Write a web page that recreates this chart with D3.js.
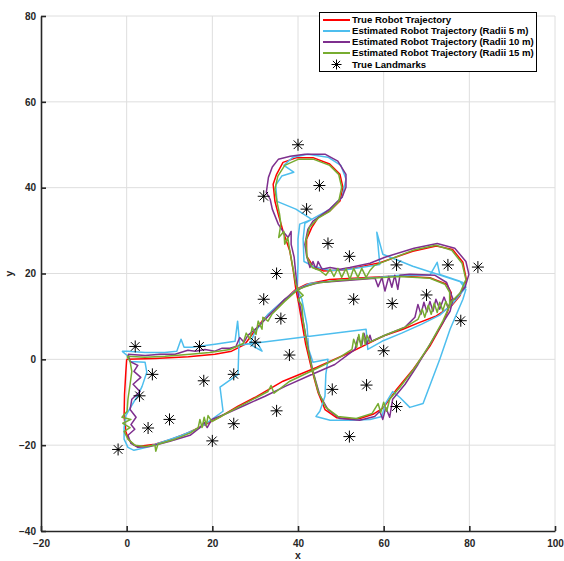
<!DOCTYPE html>
<html>
<head>
<meta charset="utf-8">
<script src="https://cdn.jsdelivr.net/npm/d3@7/dist/d3.min.js"></script>
<style>
  html, body { margin: 0; padding: 0; background: #fff; }
  svg { display: block; font-family: "Liberation Sans", Arial, sans-serif; }
</style>
</head>
<body>
<svg id="chart" width="564" height="561"></svg>
<script>
// ---------------- DATA ----------------
const xTicks = [-20, 0, 20, 40, 60, 80, 100];
const yTicks = [-40, -20, 0, 20, 40, 60, 80];
const xLabel = "x";
const yLabel = "y";

const seriesNames = [
  "True Robot Trajectory",
  "Estimated Robot Trajectory (Radii 5 m)",
  "Estimated Robot Trajectory (Radii 10 m)",
  "Estimated Robot Trajectory (Radii 15 m)"
];
const landmarkName = "True Landmarks";

const trueTrajectory = [
  [0,0],[-0.2,-3],[-0.5,-8.2],[-0.6,-13.3],[-0.2,-16.8],[0.4,-18.6],[1.5,-19.8],[2.6,-20.3],
  [6.6,-19.8],[10.5,-18.6],[14.4,-17.1],[18.3,-15.2],[22.2,-13.2],[26,-10.9],[29.9,-8.9],
  [36.5,-5.1],[44.3,-1.9],[52.1,1.6],[56,3.5],[59.9,5.4],[64.5,7],[68.4,8.6],[72.3,10.1],[75.8,12.4],
  [77.8,14.8],[79.3,18.6],[78.5,22.6],[76.1,25.6],[72.3,26.4],[66.8,25.2],[59.1,22.5],[51.3,20.9],
  [45.9,20.6],[43.5,21.7],[42,24.1],[42,28],[43.2,30.7],[44.7,33],[47.4,34.6],[49.8,36.9],[50.5,40],
  [49.8,43.1],[47.4,45.5],[43.5,47],[39.7,47],[36.5,45.9],[35,43.1],[34.2,40.8],[34.6,36.9],[35.4,33.8],
  [36.5,29.9],[38.1,25.2],[38.9,20.6],[39.5,16.3],[40.2,12.8],[40.9,8.6],[41.8,3.5],[43.2,-2.3],
  [44.7,-7.8],[46.3,-11.7],[49,-13.6],[53.7,-14],[57.5,-12.8],[59.9,-11.3],[63,-7],[66.9,-2.3],
  [70.8,3.1],[73.9,8.6],[75.4,12.4],[75.8,15.5],[74.7,17.5],[70.8,19],[63,19.4],[55.2,19],[47.4,18.6],
  [42,17.5],[39.5,16.3],[31.9,9.3],[27.6,3.5],[24.5,1.9],[20.6,1.2],[14.4,0.6],[6.6,0.2],[0,0]
];

const estRadii5 = [
  [-1.1,1.9],[0.1,0.9],[0.8,-0.5],[4.3,-0.7],[4.7,-3],[3.6,-6.3],[2.6,-8.4],[1.2,-10.7],[-0.2,-13.1],
  [-0.6,-15.9],[-0.6,-18.6],[0.3,-20.5],[1.7,-21.2],[4.7,-20.5],[8.2,-19.3],[12.9,-17.7],[17.1,-15.9],
  [19.9,-14],[22.5,-12.1],[21.8,-6.5],[26,-3.5],[26.2,3.3],[55.9,7],[56.3,2.3],[59.6,4.2],[64.2,6.1],
  [68.9,8.2],[73.1,10.3],[75.9,12.8],[79.2,16.8],[78.5,17.9],[66.8,21.7],[59.8,24.5],[58.4,29.6],
  [59.1,22.1],[52.1,21],[47.5,20.7],[43.5,21.7],[41.4,22.8],[41.2,28],[41.6,31.7],[43.7,32.9],[47.5,35],
  [50.3,37.8],[51.2,42],[50,45.2],[47,47.1],[42.3,47.8],[38.8,47.1],[36.7,45.2],[39,43.6],[36.2,42.7],
  [34.8,40.6],[35.1,36.8],[39.5,35],[43.2,32.6],[40.4,31.5],[40,28],[40,22.1],[39.8,16.3],
  [40.9,14],[42.1,7.9],[42.5,2.3],[43.5,-0.7],[47,0],[46.5,-3.5],[46.3,-8.6],[45.1,-12.1],[44.2,-13.3],
  [47.5,-14.2],[52.1,-14.2],[56.8,-14],[59.6,-13.3],[60.3,-10.5],[62.1,-7.5],[63.8,-8.9],[66.1,-11.2],
  [69.2,-10.3],[73.1,0],[75.5,7],[78.5,14],[79.2,16.3],[77.8,18.2],[73.1,19.8],[72.5,22.6],[70.8,19.6],
  [63.8,19.6],[59.1,19.1],[52.1,18.6],[47.5,18.2],[42.8,17.7],[39.8,16.3],
  [36.9,14],[33,10.5],[29.9,6.3],[28.8,3.5],[31.6,1.9],[30.4,4],[26.4,3.3],[25.9,8.9],[25.3,4.2],
  [20.6,3.5],[15.2,2.8],[13.4,2.8],[12.7,4.7],[11.7,1.9],[8.9,1.6],[4.3,1.6],[0.3,1.9],[-1.1,1.9]
];

const estRadii10 = [
  [0.3,1.2],[0.8,-0.5],[2.6,-1.4],[1.7,-2.8],[3.3,-4.2],[1.5,-5.8],[3.1,-7.5],[1.2,-9.3],[0.8,-11.7],
  [2.2,-13.5],[1,-15.2],[1.9,-16.3],[0.3,-17.7],[1,-19.6],[2.6,-20.5],
  [5.4,-20.3],[10.1,-19.1],[14.8,-17.7],[17.1,-15.9],[18.1,-14.7],[18.8,-15.9],[19.9,-14],[22.9,-12.8],
  [27.6,-10.7],[32.3,-8.6],[37,-6.3],[42.8,-3.7],[48.6,-1.2],[53.3,2.3],[54,5.1],[54.9,3.3],[55.4,6.1],
  [56.1,3.5],[56.8,5.6],[57.2,4.2],[60.3,5.6],[65,7.5],[67.3,9.8],[68,12.8],[68.7,10.5],[69.4,13.3],
  [70.1,11],[70.8,13.5],[71.5,11.2],[72.2,14],[73.1,11.7],[74.1,14.5],[75,12.1],[75.9,14],[76.6,14],
  [79,16.8],[79.9,19.8],[79.2,22.8],[76.6,25.9],[72.5,27],[67.1,25.9],[60.3,23.8],[56.8,22.4],[52.1,21.4],
  [49.8,21],[47.5,21.4],[45.6,21],[44.7,22.8],[44.2,21],[43.5,22.8],[42.8,21.4],[42.1,23.8],
  [41.6,26.8],[42.3,30.3],[43.5,32.2],[47.4,35],[50.3,37.8],[51.2,40.1],[51.2,43.1],[49.3,46.2],
  [46.3,47.8],[41.6,47.8],[38.2,47.3],[35.4,46.6],[34,44.8],[33.1,42.4],[32.6,38.9],[33.5,37.3],[34,35],
  [35.4,31.5],[36.5,29.8],[37.7,28.4],[38.4,29.8],[38.4,26.8],[39.1,23.8],[39.5,19.8],[39.8,16.8],
  [40.4,12.8],[41.2,8.9],[42.3,2.8],[43.5,-2.8],[45.1,-8.4],[47,-11.7],[49.8,-13.8],[54.4,-14.2],
  [57.9,-13.3],[59.1,-12.1],[59.8,-14],[60.5,-11.2],[61.4,-13.5],[62.1,-9.3],[65,-5.8],[68,-1.2],
  [70.8,3.5],[73.6,8.2],[75.5,11.2],[76.2,14],[74.7,17.9],[71.9,19.6],[66.1,19.8],[63.8,19.6],[63.3,16.3],
  [62.6,19.6],[61.9,16.8],[61.2,19.3],[60.3,15.9],[59.6,19.1],[58.7,16.9],[58,18.9],[52.1,18.4],
  [45.1,17.9],[41.6,17],[39.8,16.1],[36.9,14],[33.5,10.5],[30.6,7.5],[28.3,5.6],[27.4,4],[26.4,5.1],
  [25.5,3],[24.1,2.6],[22.3,2.6],[20.6,1.9],[18.3,2.3],[16,1.9],[14.3,2.1],[11.3,1.2],[7.8,1.2],
  [4.3,0.9],[0.3,1.2]
];

const estRadii15 = [
  [0.1,0.7],[0.8,-0.5],[1.2,-2.8],[0.8,-5.8],[0.3,-9.3],[0.1,-12.1],[-1.1,-13.5],[1,-14],[-0.9,-14.9],
  [0.8,-15.9],[-0.6,-16.8],[0.3,-18.6],[1.9,-20],[4.3,-20.3],[6.6,-20],[6.8,-21.4],[7.3,-19.8],
  [11.3,-18.6],[14.8,-17.2],[16.7,-15.9],[17.1,-14],[17.6,-15.9],[18.1,-13.5],[18.6,-15.4],[19,-13.1],
  [19.9,-14.5],[22.9,-12.8],[27.6,-10.3],[33,-7.5],[33.7,-6.1],[34.4,-7.9],[38.1,-5.1],[44,-2.3],
  [49.8,0.5],[52.6,2.3],[53,4.7],[53.7,2.8],[54.2,5.8],[54.7,3],[55.2,6.1],[55.7,3.5],[56.1,5.6],
  [56.8,4],[60.3,5.6],[65,7.5],[68,9.3],[69,11.7],[69.6,9.8],[70.4,12.6],[71.1,10.5],[71.8,13.1],
  [72.5,10.9],[73.1,13.3],[73.8,11.4],[74.5,13.5],[75.2,11.9],[75.9,13.5],[77.8,15.4],[79.2,18.6],
  [78.3,22.4],[75.9,25.4],[72.2,26.6],[66.8,25.4],[61.4,23.3],[57.9,21.9],[56.8,20.7],[55.9,19.1],
  [54.9,21.2],[54,19.1],[53,21.2],[52.1,18.6],[51.2,21.2],[50.2,19.1],[49.3,21.2],[48.4,19.3],
  [47.5,21],[46.5,19.6],[45.1,20.7],[43.3,21.4],[42.1,23.8],[41.8,27.5],[42.7,30.8],[44.7,32.9],
  [47.4,34.5],[49.5,36.8],[50.2,40.1],[49.5,43.1],[47.4,45.2],[43.7,46.6],[40,46.6],[36.9,45.2],
  [35.3,42.7],[34.6,39.6],[35.1,36.6],[35.7,33.8],[36,31.5],[35.5,28.4],[36.7,29.8],[36.9,26.8],
  [37.6,28.4],[38.1,25.2],[38.8,21.4],[39.5,17.5],[40.2,15.9],[41.2,14.9],[40,14],[40.9,12.6],
  [41.2,8.9],[42.1,3.5],[43.3,-2.3],[44.7,-7.5],[46.5,-11.2],[49.3,-13.3],[53.6,-13.8],[57.3,-12.6],
  [58.7,-10.3],[59.3,-12.4],[60,-10],[60.7,-12.1],[61.4,-9.3],[63.8,-6.5],[67.3,-1.9],[70.8,3.5],
  [73.8,8.9],[75.4,12.4],[75.4,15.6],[74.3,17.5],[70.8,18.9],[63.8,19.3],[56.8,18.9],[49.8,18.4],
  [44,17.7],[40,16.3],[36.9,13.5],[33.9,10.5],[33,8.9],[31.8,9.8],[31.6,7],[30.7,8.9],[30.2,5.8],
  [29.3,7.5],[28.8,4.7],[27.9,6.1],[27.2,3.7],[24.1,2.3],[19.4,1.6],[14.8,1.2],[9,0.7],[4.3,0.5],[0.1,0.7]
];

const landmarks = [
  [40,50],[45,40.5],[42,35],[32,38],[47,27],[52,24],[35,20],[32,14],[36,9.5],[30,4],[38,1],
  [53,14],[63,22],[62,13],[70,15],[75,22],[82,21.5],[78,9],[60,2],[56,-6],[48,-7],[63,-11],
  [52,-18],[35,-12],[25,-15],[20,-19],[25,-3.5],[18,-5],[17,3],[2,3],[6,-3.5],[3,-8.5],[5,-16],
  [10,-14],[-2,-21]
];

const seriesColors = ["#ff0000", "#4dbeee", "#7e2f8e", "#77ac30"];

// ---------------- CHART ----------------
const svg = d3.select("#chart");
const plot = { left: 41, right: 555, top: 16, bottom: 531 };

const x = d3.scaleLinear().domain([-20, 100]).range([plot.left, plot.right]);
const y = d3.scaleLinear().domain([-40, 80]).range([plot.bottom, plot.top]);

// grid
const grid = svg.append("g").attr("stroke", "#dedede").attr("stroke-width", 1);
grid.selectAll("line.vx").data(xTicks.filter(d => d !== -20)).enter().append("line")
  .attr("x1", d => x(d)).attr("x2", d => x(d)).attr("y1", plot.top).attr("y2", plot.bottom);
grid.selectAll("line.hy").data(yTicks.filter(d => d !== -40)).enter().append("line")
  .attr("x1", plot.left).attr("x2", plot.right).attr("y1", d => y(d)).attr("y2", d => y(d));

// series
const line = d3.line().x(d => x(d[0])).y(d => y(d[1]));
const allSeries = [trueTrajectory, estRadii5, estRadii10, estRadii15];
allSeries.forEach((s, i) => {
  svg.append("path").datum(s).attr("d", line)
    .attr("fill", "none").attr("stroke", seriesColors[i])
    .attr("stroke-width", 1.5).attr("stroke-linejoin", "round");
});

// asterisk marker
function asterisk(g, cx, cy, r) {
  const p = g.append("g").attr("transform", `translate(${cx},${cy})`)
    .attr("stroke", "#000").attr("stroke-width", 1);
  p.append("line").attr("x1", -r).attr("x2", r).attr("y1", 0).attr("y2", 0);
  p.append("line").attr("x1", 0).attr("x2", 0).attr("y1", -r).attr("y2", r);
  const d = r * 0.72;
  p.append("line").attr("x1", -d).attr("x2", d).attr("y1", -d).attr("y2", d);
  p.append("line").attr("x1", -d).attr("x2", d).attr("y1", d).attr("y2", -d);
  p.append("circle").attr("r", 1).attr("fill", "#000").attr("stroke", "none");
}
const lm = svg.append("g");
landmarks.forEach(d => asterisk(lm, x(d[0]), y(d[1]), 6));

// axes
const axisColor = "#262626";
const xAxis = d3.axisBottom(x).tickValues(xTicks).tickSizeInner(-5).tickSizeOuter(0).tickPadding(9);
const yAxis = d3.axisLeft(y).tickValues(yTicks).tickSizeInner(-5).tickSizeOuter(0).tickPadding(6);
const gx = svg.append("g").attr("transform", `translate(0,${plot.bottom})`).call(xAxis);
const gy = svg.append("g").attr("transform", `translate(${plot.left},0)`).call(yAxis);
[gx, gy].forEach(g => {
  g.select(".domain").attr("stroke", axisColor).attr("stroke-width", 1.6);
  g.selectAll(".tick line").attr("stroke", axisColor).attr("stroke-width", 1.6);
  g.selectAll(".tick text").attr("fill", axisColor)
    .attr("font-family", "Liberation Sans, Arial, sans-serif")
    .attr("font-size", 10).attr("font-weight", "bold");
});
gy.selectAll(".tick text").attr("x", -5);

svg.append("text").attr("x", (plot.left + plot.right) / 2).attr("y", 559)
  .attr("text-anchor", "middle").attr("font-size", 10.5).attr("font-weight", "bold")
  .attr("fill", axisColor).text(xLabel);
svg.append("text").attr("transform", `translate(13,${(plot.top + plot.bottom) / 2}) rotate(-90)`)
  .attr("text-anchor", "middle").attr("font-size", 10.5).attr("font-weight", "bold")
  .attr("fill", axisColor).text(yLabel);

// legend
const lg = svg.append("g");
lg.append("rect").attr("x", 319.5).attr("y", 12.5).attr("width", 217).attr("height", 59)
  .attr("fill", "#fff").attr("stroke", "#000").attr("stroke-width", 1);
const rowY = [20, 31, 42, 53, 64.5];
seriesNames.forEach((n, i) => {
  lg.append("line").attr("x1", 323).attr("x2", 350).attr("y1", rowY[i]).attr("y2", rowY[i])
    .attr("stroke", seriesColors[i]).attr("stroke-width", 2);
  lg.append("text").attr("x", 352).attr("y", rowY[i]).attr("dy", "0.35em")
    .attr("font-size", 9.6).attr("font-weight", "bold").attr("fill", "#000").text(n);
});
asterisk(lg, 336.5, rowY[4], 5);
lg.append("text").attr("x", 352).attr("y", rowY[4]).attr("dy", "0.35em")
  .attr("font-size", 9.6).attr("font-weight", "bold").attr("fill", "#000").text(landmarkName);
</script>
</body>
</html>
